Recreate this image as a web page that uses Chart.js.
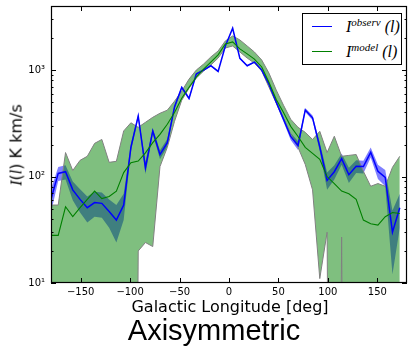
<!DOCTYPE html>
<html>
<head>
<meta charset="utf-8">
<script src="https://cdn.jsdelivr.net/npm/chart.js@4/dist/chart.umd.min.js"></script>
<style>
  body { margin: 0; background: #fff; }
  #wrap { position: relative; width: 408px; height: 346px; overflow: hidden; }
  #chart { position: absolute; left: 0; top: 0; }
  .lbl { position: absolute; white-space: nowrap; color: #000; }
  .math { font-family: "Liberation Serif", serif; font-style: italic; }
  #ylabel { left: 16px; top: 145px; font: 16px "DejaVu Sans"; transform: translate(-50%, -50%) rotate(-90deg); }
  #xlabel { left: 230px; top: 299px; font: 16px/16px "DejaVu Sans"; transform: translateX(-50%); }
  #title { left: 214px; top: 316px; font: 29px/29px "Liberation Sans"; transform: translateX(-50%); }
  #legend { position: absolute; left: 302px; top: 13px; width: 98px; height: 50px; border: 1px solid #000; background: #fff; }
  .swatch { position: absolute; left: 9px; width: 20px; height: 0; }
  .entry { position: absolute; left: 43px; font-size: 16px; line-height: 16px; }
  .entry sup { font-size: 11px; vertical-align: 6px; line-height: 0; }
</style>
</head>
<body>
<div id="wrap">
  <canvas id="chart" width="408" height="346"></canvas>
  <div class="lbl" id="ylabel"><span class="math">I</span>(<span class="math">l</span>) K km/s</div>
  <div class="lbl" id="xlabel">Galactic Longitude [deg]</div>
  <div class="lbl" id="title">Axisymmetric</div>
  <div id="legend">
    <div class="swatch" style="top:12px;border-top:1.5px solid #0000ff"></div>
    <div class="lbl entry math" style="top:5px">I<sup>observ</sup> (l)</div>
    <div class="swatch" style="top:37px;border-top:1.5px solid #008000"></div>
    <div class="lbl entry math" style="top:30px">I<sup>model</sup> (l)</div>
  </div>
</div>
<script>
// galactic longitude of each bin (deg)
const longitudes = [-180.0, -172.7, -165.3, -158.0, -150.6, -143.3, -135.9, -128.6, -121.2, -113.9,
  -106.5, -99.2, -91.8, -84.5, -77.1, -69.8, -62.4, -55.1, -47.8, -40.4,
  -33.1, -25.7, -18.4, -11.0, -3.7, 3.7, 11.0, 18.4, 25.7, 33.1,
  40.4, 47.8, 55.1, 62.4, 69.8, 77.1, 84.5, 91.8, 99.2, 106.5,
  113.9, 121.2, 128.6, 135.9, 143.3, 150.6, 158.0, 165.3, 172.7];

// observed intensity and its error (K km/s)
const observed = [61, 107, 111, 75, 61, 51, 57, 56, 47, 39,
  54, 188, 370, 121, 268, 161, 208, 450, 687, 541,
  917, 1000, 1098, 972, 1684, 2473, 1289, 1098, 1189, 1000,
  738, 499, 345, 238, 196, 422, 356, 190, 92, 111,
  147, 104, 125, 124, 169, 112, 98, 30, 51];
const observedErr = [15, 16, 17, 15, 15, 14, 15, 15, 14, 15,
  15, 16, 18, 16, 17, 16, 17, 18, 20, 18,
  20, 20, 20, 20, 22, 25, 20, 20, 20, 20,
  18, 18, 18, 18, 18, 18, 18, 18, 17, 17,
  18, 17, 17, 17, 18, 17, 17, 18, 18];

// model intensity and the spread of the model runs (0 = not positive)
const model = [28, 28, 52, 42, 51, 61, 73, 62, 65, 73,
  109, 135, 140, 167, 208, 249, 310, 400, 545, 690,
  860, 1020, 1190, 1390, 1760, 1840, 1580, 1420, 1270, 1070,
  770, 530, 400, 296, 238, 188, 165, 145, 100, 86,
  73, 69, 61, 39, 36, 35, 42, 46, 45];
const modelHigh = [54, 54, 168, 114, 142, 155, 205, 223, 136, 139,
  268, 320, 290, 323, 360, 393, 420, 510, 634, 823,
  1000, 1139, 1327, 1511, 1878, 2094, 1919, 1684, 1479, 1243,
  937, 648, 468, 345, 290, 260, 223, 266, 168, 239,
  155, 158, 161, 112, 81, 86, 81, 122, 155];
const modelLow = [0, 0, 0, 0, 0, 0, 0, 0, 0, 0,
  0, 0, 20, 24, 22, 124, 188, 330, 521, 676,
  841, 979, 1114, 1297, 1614, 1684, 1479, 1297, 1164, 979,
  691, 488, 345, 249, 188, 130, 75, 11, 30, 0,
  27, 0, 0, 0, 0, 0, 0, 0, 0];

const xTicks = [-150, -100, -50, 0, 50, 100, 150];
const yTicks = [10, 100, 1000];
const yTickLabels = ["10\u00b9", "10\u00b2", "10\u00b3"];

// non-positive values are pushed far below the axis, like matplotlib's log clipping
function points(values) {
    return longitudes.map((l, i) => ({ x: l, y: values[i] > 0 ? values[i] : 1e-9 }));
}

const obsHigh = observed.map((v, i) => v + observedErr[i]);
const obsLow = observed.map((v, i) => v - observedErr[i]);

// inward ticks on all four sides plus the frame
const frameTicks = {
    id: "frameTicks",
    afterDraw(chart) {
        const { ctx, chartArea: a, scales: { x, y } } = chart;
        ctx.save();
        ctx.strokeStyle = "#000";
        ctx.lineWidth = 1;
        ctx.beginPath();
        xTicks.forEach(v => {
            const px = Math.round(x.getPixelForValue(v)) + 0.5;
            ctx.moveTo(px, a.bottom); ctx.lineTo(px, a.bottom - 5);
            ctx.moveTo(px, a.top); ctx.lineTo(px, a.top + 5);
        });
        [10, 100, 1000].forEach(dec => {
            for (let m = 1; m <= 9; m++) {
                const v = m * dec;
                if (v > y.max) continue;
                const py = Math.round(y.getPixelForValue(v)) + 0.5;
                const len = m === 1 ? 5 : 2.5;
                ctx.moveTo(a.left, py); ctx.lineTo(a.left + len, py);
                ctx.moveTo(a.right, py); ctx.lineTo(a.right - len, py);
            }
        });
        ctx.stroke();
        ctx.lineWidth = 1.2;
        ctx.strokeRect(a.left + 0.5, a.top + 0.5, a.right - a.left - 1, a.bottom - a.top - 1);
        ctx.restore();
    }
};

new Chart(document.getElementById("chart").getContext("2d"), {
    type: "line",
    data: {
        datasets: [
            { data: points(obsHigh), borderWidth: 0, backgroundColor: "rgba(0,0,255,0.5)", fill: "+1", order: 5 },
            { data: points(obsLow), borderWidth: 0, fill: false, order: 6 },
            { data: points(modelHigh), borderColor: "#808080", borderWidth: 1, backgroundColor: "rgba(0,128,0,0.5)", fill: "+1", order: 4 },
            { data: points(modelLow), borderColor: "#808080", borderWidth: 1, fill: false, order: 3 },
            { label: "observ", data: points(observed), borderColor: "#0000ff", borderWidth: 1.5, fill: false, order: 1 },
            { label: "model", data: points(model), borderColor: "#008000", borderWidth: 1.1, fill: false, order: 0 }
        ]
    },
    options: {
        responsive: false,
        animation: false,
        events: [],
        elements: { point: { radius: 0 }, line: { tension: 0 } },
        layout: { padding: { top: 6, right: 1, left: 0, bottom: 0 } },
        plugins: { legend: { display: false }, tooltip: { enabled: false } },
        scales: {
            x: {
                type: "linear",
                min: -180,
                max: 180,
                afterFit: s => { s.height = 63; s.paddingLeft = 0; s.paddingRight = 0; },
                afterBuildTicks: s => { s.ticks = xTicks.map(v => ({ value: v })); },
                grid: { display: false, drawTicks: false },
                border: { display: false },
                ticks: {
                    padding: 3,
                    maxRotation: 0,
                    autoSkip: false,
                    color: "#000",
                    font: { family: "DejaVu Sans", size: 10 },
                    callback: v => (v < 0 ? "\u2212" + Math.abs(v) : String(v))
                }
            },
            y: {
                type: "logarithmic",
                min: 10,
                max: 4000,
                afterFit: s => { s.width = 51; s.paddingTop = 0; s.paddingBottom = 0; },
                afterBuildTicks: s => { s.ticks = yTicks.map(v => ({ value: v })); },
                grid: { display: false, drawTicks: false },
                border: { display: false },
                ticks: {
                    padding: 6,
                    color: "#000",
                    font: { family: "DejaVu Sans", size: 10 },
                    callback: v => yTickLabels[yTicks.indexOf(v)]
                }
            }
        }
    },
    plugins: [frameTicks]
});
</script>
</body>
</html>
